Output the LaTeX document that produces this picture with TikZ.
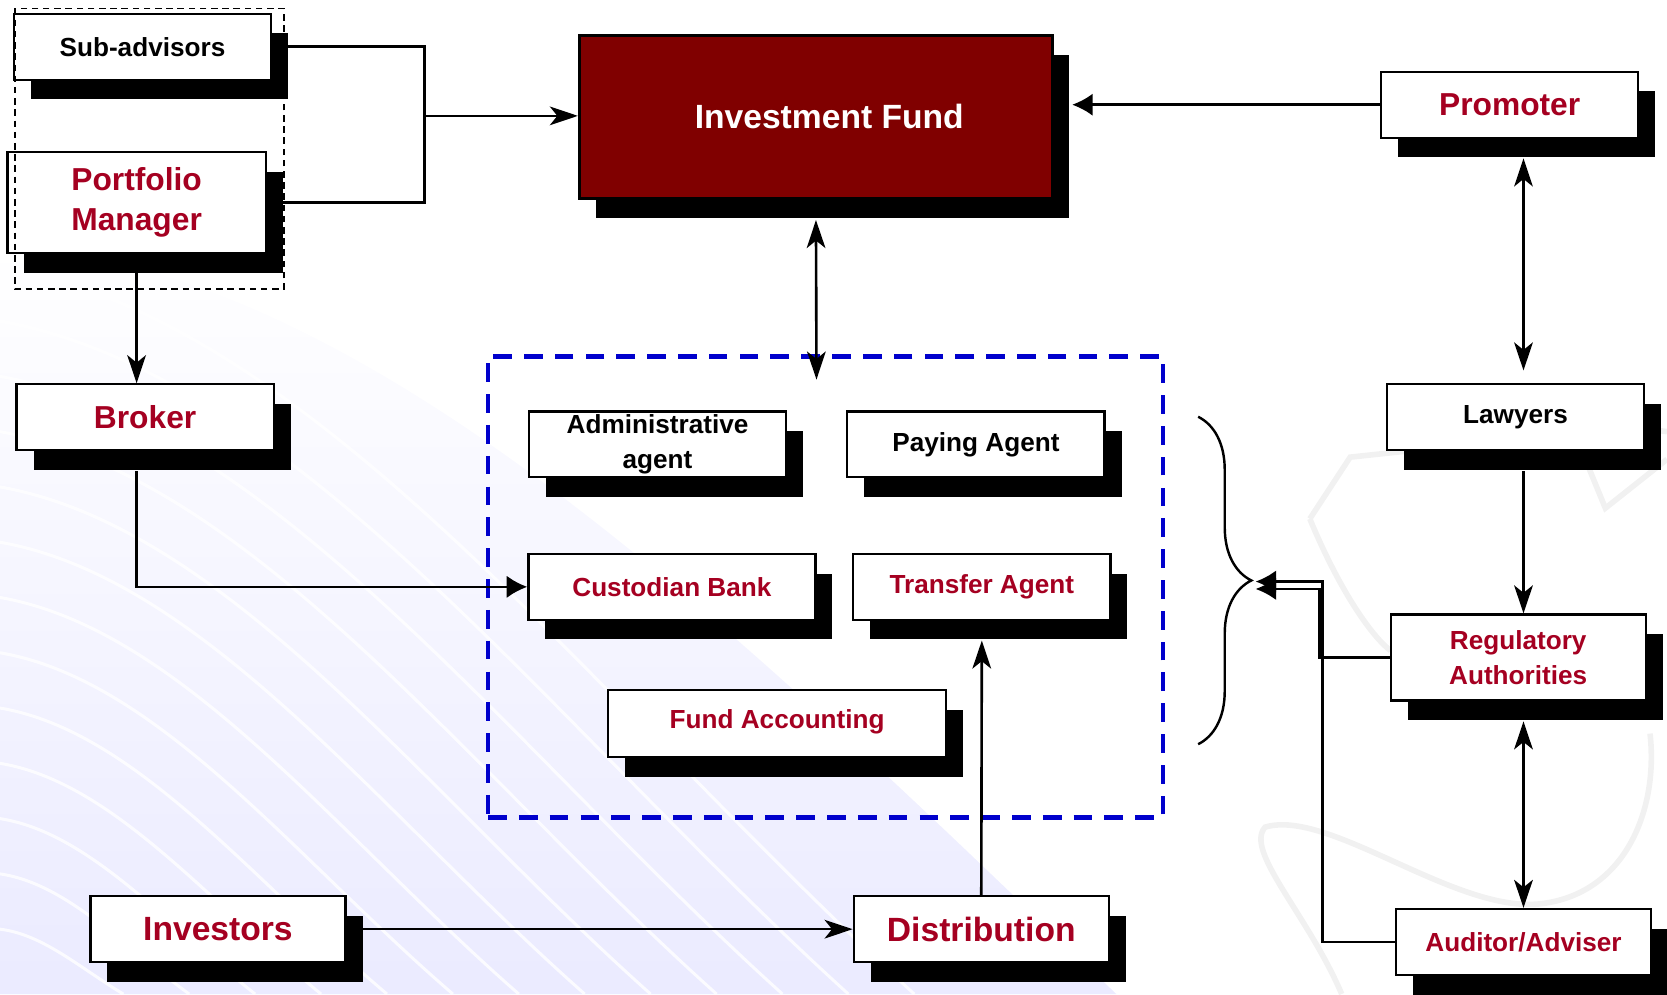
\documentclass[tikz,border=0pt]{standalone}
\usepackage{fontspec}
\setmainfont{Liberation Sans}
\usepackage{tikz}
\usetikzlibrary{arrows.meta,shadows,decorations.pathreplacing}
\definecolor{fundred}{HTML}{800000}
\definecolor{labelred}{HTML}{A50021}
\definecolor{dashblue}{HTML}{0000CC}
\tikzstyle{party}=[draw, fill=white, line width=1.2pt, inner sep=0pt, align=center,
  minimum width=4.84cm, minimum height=1.24cm, font=\bfseries\fontsize{14}{19}\selectfont,
  drop shadow={shadow xshift=0.32cm, shadow yshift=-0.37cm, fill=black, opacity=1}]
\tikzstyle{redtext}=[text=labelred]
\tikzstyle{big}=[font=\bfseries\fontsize{17}{21.5}\selectfont]
\tikzstyle{huge}=[font=\bfseries\fontsize{18}{22}\selectfont]
\tikzstyle{link}=[draw, line width=1.4pt]
\tikzstyle{arrow}=[link, -{Stealth[length=15pt,width=10pt,inset=4pt]}]
\tikzstyle{dblarrow}=[link, {Stealth[length=15pt,width=10pt,inset=4pt]}-{Stealth[length=15pt,width=10pt,inset=4pt]}]
\tikzstyle{tri}=[link, -{Latex[length=11pt,width=12pt]}]
\tikzstyle{swirl}=[gray!11, line width=3pt]

\begin{document}
\begin{tikzpicture}[x=0.02cm, y=-0.02cm]
\useasboundingbox (0,0) rectangle (1568,935);

% pale wave backdrop
\shade[top color=white, bottom color=blue!8] (0,230) .. controls (350,250) and (700,600) .. (1050,935) -- (0,935) -- cycle;
\foreach \k [evaluate=\k as \ya using 250+52*\k, evaluate=\k as \xb using 860-62*\k] in {0,...,12}
  \draw[white, line width=1.6pt, opacity=0.8] (0,\ya) .. controls ({0.35*\xb},{\ya+0.08*(935-\ya)}) and ({0.65*\xb},{\ya+0.6*(935-\ya)}) .. (\xb,935);
% faint grey swirl on the right
\draw[swirl] (1232,488) -- (1270,430) -- (1420,414) .. controls (1500,404) and (1540,402) .. (1568,406);
\draw[swirl] (1478,400) -- (1510,478) -- (1568,432);
\draw[swirl] (1232,488) .. controls (1262,560) and (1292,600) .. (1308,612);
\draw[swirl] (1262,935) .. controls (1230,860) and (1170,800) .. (1190,778) .. controls (1250,760) and (1370,860) .. (1450,850) .. controls (1530,840) and (1560,760) .. (1552,690);

% managers on the left
\node[party] (sub) at (134,44) {Sub-advisors};
\node[party, big, redtext, minimum width=4.86cm, minimum height=1.9cm] (pm) at (128.5,190.5) {Portfolio\\Manager};
\node[party, big, redtext] (broker) at (136.5,392.5) {Broker};
\draw[dashed, line width=0.8pt, dash pattern=on 3.5pt off 2.5pt] (14,8) rectangle (267,272);

% the fund itself
\node[party, huge, fill=fundred, text=white, line width=1.7pt, minimum width=8.9cm, minimum height=3.08cm] (fund) at (767.5,110) {\hspace{0.5cm}Investment Fund};
\node[party, big, redtext] (prom) at (1420,98.5) {Promoter};

% service providers in the blue frame
\node[draw=dashblue, line width=2.6pt, dash pattern=on 10pt off 6.5pt, minimum width=12.7cm, minimum height=8.68cm] (services) at (776.5,552) {};
\node[party] (admin) at (618.5,418) {Administrative\\agent};
\node[party] (pay) at (918,418) {Paying Agent};
\node[party, redtext, minimum width=5.4cm] (cust) at (632,552) {Custodian Bank};
\node[party, redtext] (trans) at (923.5,552) {Transfer Agent};
\node[party, redtext, minimum width=6.36cm, minimum height=1.26cm] (acct) at (731,680.5) {\raisebox{0.16cm}{Fund Accounting}};

% right hand column
\node[party] (law) at (1425.5,392.5) {Lawyers};
\node[party, redtext, minimum width=4.8cm, minimum height=1.62cm] (reg) at (1428,618.5) {Regulatory\\Authorities};
\node[party, redtext, minimum width=4.8cm] (aud) at (1433,886) {Auditor/Adviser};

% bottom row
\node[party, huge, redtext, minimum width=4.8cm] (inv) at (205,874) {Investors};
\node[party, huge, redtext, minimum width=4.8cm] (dist) at (923,874) {Distribution};

% connectors
\coordinate (merge) at (399,109);
\draw[link] (sub.east) -| (merge);
\draw[link] (pm.east) -| (merge);
\draw[arrow] (merge) -- (fund.west |- merge);
\draw[tri] (prom.west) -- ([xshift=0.34cm]prom.west -| fund.east);
\coordinate (fundlink) at (768,357);
\draw[dblarrow] ([yshift=-0.37cm]fund.south) -- (fundlink);
\draw[arrow] (pm.south) -- (pm.south |- broker.north);
\draw[tri] ([yshift=-0.37cm]broker.south -| pm.south) |- (cust.west);
\draw[arrow] (inv.east) -- (dist.west);
\draw[arrow] (dist.north) -- ([yshift=-0.37cm]trans.south);

\draw[dblarrow] ([yshift=-0.37cm]prom.south -| aud.north) -- ([yshift=0.24cm]law.north -| aud.north);
\draw[arrow] ([yshift=-0.37cm]law.south -| aud.north) -- (reg.north -| aud.north);
\draw[dblarrow] ([yshift=-0.37cm]reg.south -| aud.north) -- (aud.north);

% brace gathering the providers
\draw[line width=1.3pt, decorate, decoration={brace, amplitude=1cm}] (1127,392) -- (1127,700);
\coordinate (tipa) at (1181,547);
\coordinate (tipb) at (1181,554);
\draw[tri] (aud.west) -- ++(-68,0) |- (tipa);
\draw[tri] (reg.west) -- ++(-66,0) |- (tipb);
\end{tikzpicture}
\end{document}
